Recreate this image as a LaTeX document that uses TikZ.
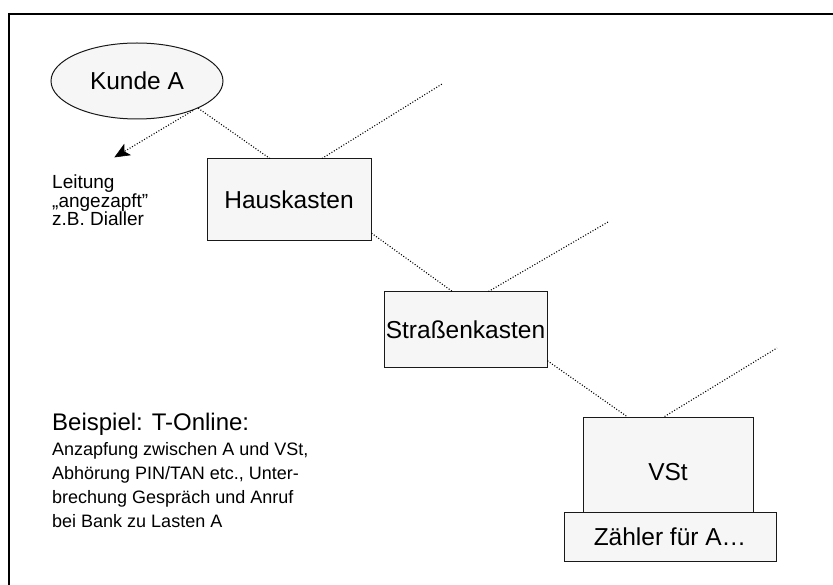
\documentclass[tikz,border=0pt]{standalone}
\usepackage{fontspec}
\setmainfont{Liberation Sans}
\usetikzlibrary{arrows.meta,shapes.geometric,calc}
\tikzset{
  boxnode/.style={draw=black!90, line width=1pt, fill=gray!7, inner sep=0pt,
    font=\fontsize{24.5}{28}\selectfont},
  wire/.style={draw=black, line width=1.1pt, dash pattern=on 1pt off 1.8pt},
  tiphead/.style={fill=black, draw=black, solid, line width=0.6pt, line join=miter},
  smalltext/.style={anchor=base west, inner sep=0pt, font=\fontsize{19}{20}\selectfont},
  notetext/.style={anchor=base west, inner sep=0pt, font=\fontsize{18}{20}\selectfont},
  headtext/.style={anchor=base west, inner sep=0pt, font=\fontsize{24}{28}\selectfont},
  frameline/.style={draw=black, line width=2pt}
}
\begin{document}
\begin{tikzpicture}[x=1pt,y=-1pt]
\useasboundingbox (0,0) rectangle (833,585);
% frame
\coordinate (ftr) at (833,14);
\coordinate (ftl) at (8,14);
\coordinate (fbl) at (9,585);
\draw[frameline] (ftr) -- (ftl);
\draw[frameline] ($(ftl)+(1,-1)$) -- (fbl);

% nodes
\node[boxnode, ellipse, minimum width=172pt, minimum height=76pt] (ka) at (137,81) {Kunde A};
\node[boxnode, minimum width=164pt, minimum height=82pt] (hk) at (289,200) {Hauskasten};
\node[boxnode, minimum width=163pt, minimum height=76pt] (sk) at (465.5,330) {Straßenkasten};
\node[boxnode, minimum width=170pt, minimum height=95pt, text height=32pt, text depth=0pt] (vst) at (668,464.5) {VSt};
\node[boxnode, minimum width=212pt, minimum height=49pt] (zl) at (670,536.5) {Zähler für A…};

% free ends
\coordinate (hkfree) at (442,84);
\coordinate (skfree) at (608,222);
\coordinate (vstfree) at (777,348);
\coordinate (tap) at (115,157);

% connectors
\draw[wire] (ka.-24) -- ($(hk.north west)!0.384!(hk.north east)$);
\draw[wire] ($(hk.north west)!0.70!(hk.north east)$) -- (hkfree);
\draw[wire] ($(hk.north east)!0.9!(hk.south east)$) -- ($(sk.north west)!0.42!(sk.north east)$);
\draw[wire] ($(sk.north west)!0.64!(sk.north east)$) -- (skfree);
\draw[wire] ($(sk.north east)!0.9!(sk.south east)$) -- ($(vst.north west)!0.26!(vst.north east)$);
\draw[wire] ($(vst.north west)!0.48!(vst.north east)$) -- (vstfree);
\draw[wire, shorten <=1pt, shorten >=10pt] (ka.-27) -- (tap);
% arrowhead
\coordinate (ab) at ($(tap)!14pt!(ka.-27)$);
\coordinate (ai) at ($(tap)!10.5pt!(ka.-27)$);
\filldraw[tiphead] (tap) -- ($(ab)!6pt!90:(tap)$) -- (ai) -- ($(ab)!6pt!-90:(tap)$) -- cycle;

% texts
\node[smalltext] (l1) at (52,189) {Leitung};
\node[smalltext] (l2) at (52,207.5) {„angezapft"};
\node[smalltext] (l3) at (52,226) {z.B. Dialler};

\node[headtext] (bh) at (52,430) {Beispiel: T-Online:};
\node[notetext] (b1) at (52,455) {Anzapfung zwischen A und VSt,};
\node[notetext] (b2) at (52,479) {Abhörung PIN/TAN etc., Unter-};
\node[notetext] (b3) at (52,503) {brechung Gespräch und Anruf};
\node[notetext] (b4) at (52,527) {bei Bank zu Lasten A};
\end{tikzpicture}
\end{document}
